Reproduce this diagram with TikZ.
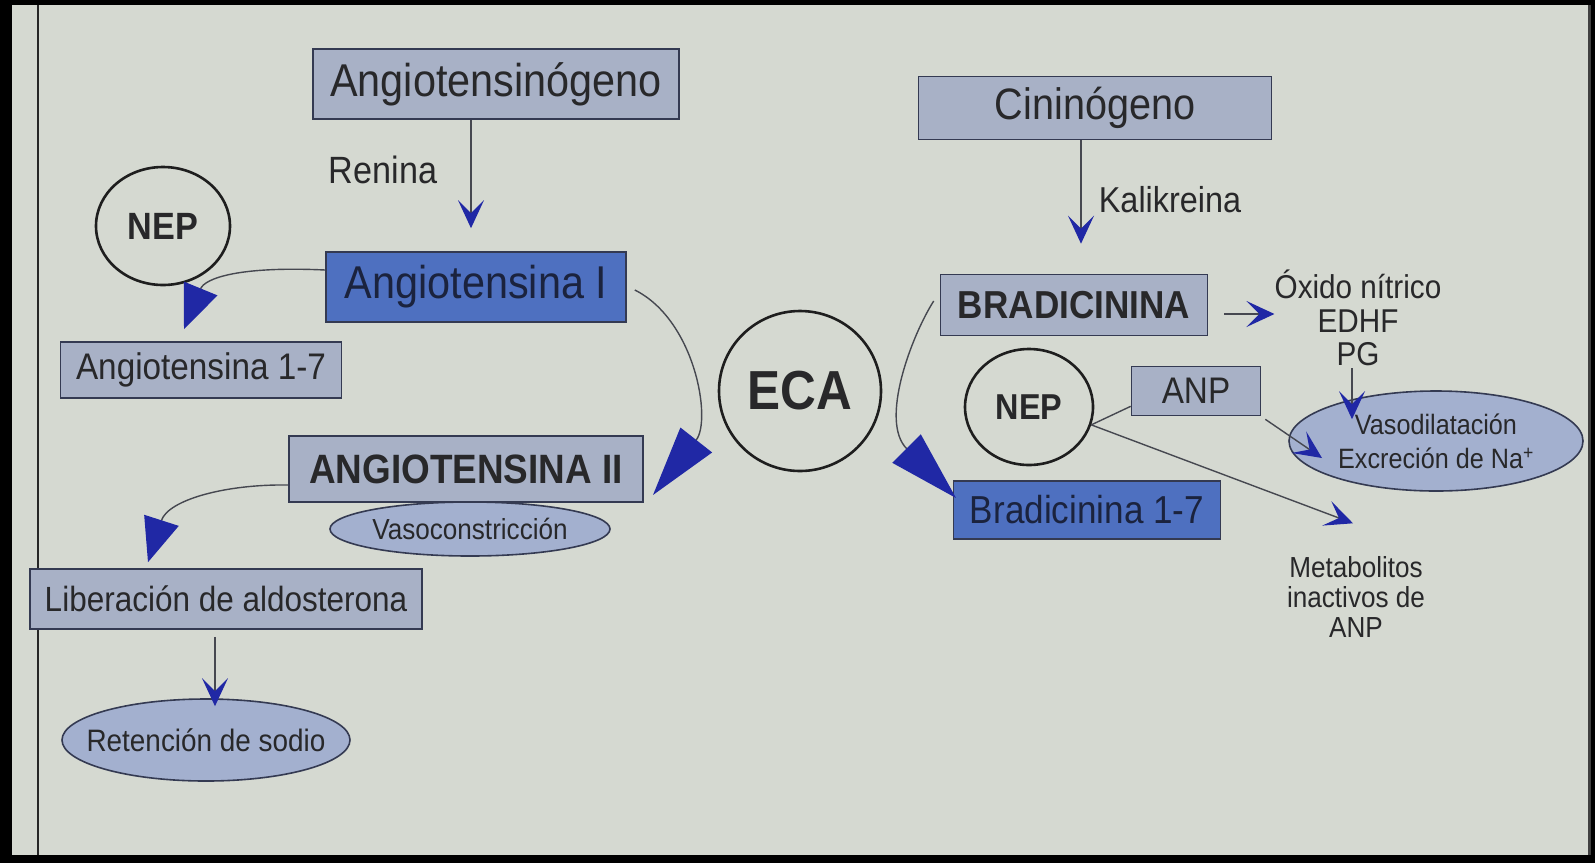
\documentclass[tikz,border=0pt]{standalone}
\usepackage{fontspec}
\setmainfont{Liberation Sans}[FakeStretch=0.9]
\usetikzlibrary{arrows.meta,shapes.geometric,calc}
\definecolor{paper}{RGB}{213,217,209}
\definecolor{boxlight}{RGB}{168,177,198}
\definecolor{boxdark}{RGB}{78,112,192}
\definecolor{ellfill}{RGB}{163,176,207}
\definecolor{edge}{RGB}{52,58,82}
\definecolor{tipblue}{RGB}{32,40,165}
\definecolor{ink}{RGB}{40,40,42}
\definecolor{inkdark}{RGB}{27,35,62}
\definecolor{wire}{RGB}{70,72,80}

\begin{document}
\begin{tikzpicture}[x=1pt,y=-1pt,
  lbox/.style={draw=edge, line width=1.6pt, fill=boxlight, inner sep=0pt, text=ink},
  dbox/.style={lbox, fill=boxdark, text=inkdark},
  enz/.style={ellipse, draw={rgb,255:red,30;green,30;blue,30}, line width=2.6pt, inner sep=0pt, text=ink},
  eff/.style={ellipse, draw=edge, line width=1.6pt, fill=ellfill, inner xsep=-30pt, inner ysep=0pt, text=ink},
  lbl/.style={text=ink, inner sep=0pt, align=center},
  conn/.style={draw=wire, line width=1.4pt},
  sarrow/.style={conn, -{Stealth[length=28pt,width=26pt,inset=13pt,color=tipblue,fill=tipblue]}},
  midtri/.style={conn, -{Triangle[length=44pt,width=36pt,color=tipblue,fill=tipblue]}},
  bigtri/.style={conn, -{Triangle[length=70pt,width=40pt,color=tipblue,fill=tipblue]}},
]
% page and its edges
\fill[black] (0,0) rectangle (1595,863);
\fill[paper] (12,5) rectangle (1589,855);
\draw[line width=2pt, black!85] (38,5) -- (38,855);
\draw[line width=3pt, black!75] (1589,5) -- (1589,855);
\useasboundingbox (0,0) rectangle (1595,863);

% renin-angiotensin branch
\node[lbox, minimum width=366pt, minimum height=70pt, font=\fontsize{46}{50}\selectfont] (angn) at (496,84) {Angiotensinógeno};
\node[lbl, font=\fontsize{38}{42}\selectfont] (renina) at (383,170) {Renina};
\node[enz, minimum width=134pt, minimum height=118pt, font=\bfseries\fontsize{38}{42}\selectfont] (nepL) at (163,226) {NEP};
\node[dbox, minimum width=300pt, minimum height=70pt, font=\fontsize{46}{50}\selectfont] (ang1) at (476,287) {Angiotensina I};
\node[lbox, minimum width=281pt, minimum height=56pt, font=\fontsize{37}{40}\selectfont] (ang17) at (201,370) {Angiotensina 1-7};
\node[enz, minimum width=162pt, minimum height=160pt, font=\bfseries\fontsize{55}{60}\selectfont] (eca) at (800,391) {ECA};
\node[lbox, minimum width=354pt, minimum height=66pt, font=\bfseries\fontsize{41}{45}\selectfont] (ang2) at (466,469) {ANGIOTENSINA II};
\node[eff, minimum width=280pt, minimum height=54pt, font=\fontsize{29}{32}\selectfont] (vaso) at (470,529) {Vasoconstricción};
\node[lbox, minimum width=392pt, minimum height=60pt, font=\fontsize{35}{38}\selectfont] (lib) at (226,599) {Liberación de aldosterona};
\node[eff, minimum width=288pt, minimum height=82pt, font=\fontsize{31}{34}\selectfont] (ret) at (206,740) {Retención de sodio};

% kinin branch
\node[lbox, minimum width=353pt, minimum height=63pt, font=\fontsize{44}{48}\selectfont] (cin) at (1095,108) {Cininógeno};
\node[lbl, font=\fontsize{36}{40}\selectfont] (kal) at (1170,200) {Kalikreina};
\node[lbox, minimum width=267pt, minimum height=61pt, font=\bfseries\fontsize{39}{42}\selectfont] (brad) at (1074,305) {BRADICININA};
\node[dbox, minimum width=267pt, minimum height=58pt, font=\fontsize{39}{42}\selectfont] (brad17) at (1087,510) {Bradicinina 1-7};
\node[lbl, font=\fontsize{33}{33.5}\selectfont] (efx) at (1358,318) {Óxido nítrico\\EDHF\\PG};
\node[enz, minimum width=128pt, minimum height=116pt, font=\bfseries\fontsize{36}{40}\selectfont] (nepR) at (1029,407) {NEP};
\node[lbox, minimum width=129pt, minimum height=49pt, font=\fontsize{37}{40}\selectfont] (anp) at (1196,391) {ANP};
\node[eff, minimum width=294pt, minimum height=100pt, font=\fontsize{28}{34}\selectfont, align=center] (vdil) at (1436,441) {Vasodilatación\\Excreción de Na\textsuperscript{+}};
\node[lbl, font=\fontsize{29}{30}\selectfont] (meta) at (1356,597) {Metabolitos\\inactivos de\\ANP};

% tips of the large arrows
\coordinate (tipA) at (653,495);
\coordinate (tipB) at (956,498);

% straight conversions
\draw[sarrow] ([xshift=-25pt]angn.south) -- ([xshift=-5pt,yshift=23pt]ang1.north);
\draw[sarrow] ([xshift=-11pt,yshift=-7pt]lib.south) -- ([xshift=9pt,yshift=-8pt]ret.north);
\draw[sarrow] ([xshift=-14pt]cin.south) -- ([xshift=7pt,yshift=30pt]brad.north);
\draw[sarrow] ([xshift=16pt,yshift=-9pt]brad.east) -- ([yshift=4pt]efx.west);
\draw[sarrow] ([xshift=-6pt,yshift=-2pt]efx.south) -- ([xshift=-84pt,yshift=-29pt]vdil.north);
\draw[sarrow] ([xshift=4pt,yshift=-3pt]anp.south east) -- ([xshift=-114pt,yshift=-17pt]vdil.center);
\draw[conn] (nepR.-16) -- ([yshift=10pt]anp.south west);
\draw[sarrow] (nepR.-16) -- ([xshift=-3pt,yshift=33pt]meta.north);

% curved cleavages
\draw[midtri] ([yshift=17pt]ang1.west) .. controls (240,266) and (205,278) .. ([xshift=-17pt,yshift=12pt]ang17.north);
\draw[bigtri] ([xshift=8pt,yshift=-3pt]ang1.east) .. controls (695,320) and (712,420) .. (tipA);
\draw[midtri] ([yshift=-16pt]ang2.west) .. controls (225,484) and (168,500) .. ([xshift=-78pt,yshift=6pt]lib.north);
\draw[bigtri] ([xshift=-6pt,yshift=4pt]brad.west) .. controls (912,335) and (879,421) .. (tipB);
\end{tikzpicture}
\end{document}
